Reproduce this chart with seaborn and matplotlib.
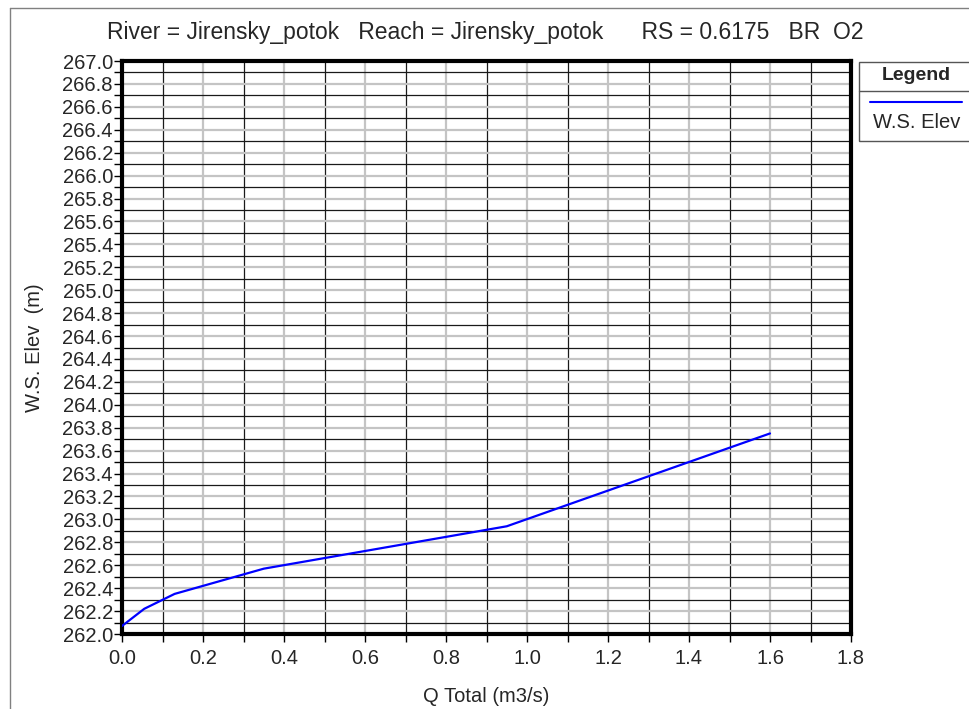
import numpy as np
import pandas as pd
import matplotlib
matplotlib.use("Agg")
import matplotlib.pyplot as plt
from matplotlib.lines import Line2D
from matplotlib.patches import Rectangle
from matplotlib.ticker import MultipleLocator, FormatStrFormatter
import seaborn as sns

# rating curve
q_total = [0.0, 0.055, 0.13, 0.35, 0.95, 1.6]
ws_elev = [262.07, 262.22, 262.35, 262.57, 262.94, 263.75]

title = "River = Jirensky_potok   Reach = Jirensky_potok      RS = 0.6175   BR  O2"
x_label = "Q Total (m3/s)"
y_label = "W.S. Elev  (m)"
legend_title = "Legend"
series_name = "W.S. Elev"

sns.set_style("white")
plt.rcParams['font.family'] = ['Liberation Sans', 'DejaVu Sans']

W, H = 969, 709
fig = plt.figure(figsize=(W / 100, H / 100), dpi=100)
# axes box in pixels: left 122, right 851, top 61, bottom 634
ax = fig.add_axes([122 / W, 1 - 634 / H, (851 - 122) / W, (634 - 61) / H])

df = pd.DataFrame({"Q": q_total, "WSE": ws_elev})
sns.lineplot(data=df, x="Q", y="WSE", ax=ax, color="#0000ff", lw=1.6,
             sort=False, legend=False, zorder=5)

ax.set_xlim(0, 1.8)
ax.set_ylim(262.0, 267.0)
ax.xaxis.set_major_locator(MultipleLocator(0.2))
ax.xaxis.set_minor_locator(MultipleLocator(0.1))
ax.yaxis.set_major_locator(MultipleLocator(0.2))
ax.yaxis.set_minor_locator(MultipleLocator(0.1))
ax.xaxis.set_major_formatter(FormatStrFormatter('%.1f'))
ax.yaxis.set_major_formatter(FormatStrFormatter('%.1f'))

ax.grid(which='major', color='#c4c4c4', lw=1.6, zorder=0)
ax.grid(which='minor', color='#1a1a1a', lw=0.9, zorder=1)
ax.set_axisbelow(True)

ax.tick_params(which='both', direction='out', length=6, width=1,
               color='black', bottom=True, left=True)
ax.tick_params(axis='y', labelsize=14.5, pad=0.5)
ax.tick_params(axis='x', labelsize=14.5, pad=5)
for s in ax.spines.values():
    s.set_color('black')
    s.set_linewidth(3)

ax.set_xlabel(x_label, fontsize=14.5)
ax.set_ylabel(y_label, fontsize=14.5)
ax.xaxis.set_label_coords((486 - 122) / (851 - 122), -(697 - 634) / (634 - 61))
ax.yaxis.set_label_coords(-(122 - 35) / (851 - 122), (634 - 348) / (634 - 61))
ax.xaxis.label.set_va('center')
ax.yaxis.label.set_va('center')

fig.text(485 / W, 1 - 33 / H, title, ha='center', va='center', fontsize=16.5)

# outer frame (left and top edges visible)
fig.add_artist(Line2D([10 / W, 10 / W], [0, 1 - 8 / H], transform=fig.transFigure,
                      color='#808080', lw=1))
fig.add_artist(Line2D([10 / W, 1], [1 - 8 / H, 1 - 8 / H], transform=fig.transFigure,
                      color='#808080', lw=1))

# legend box
lx0, lx1, ly0, ly1 = 859, 975, 62, 141
fig.add_artist(Rectangle((lx0 / W, 1 - ly1 / H), (lx1 - lx0) / W, (ly1 - ly0) / H,
                         transform=fig.transFigure, fill=False, ec='#555555', lw=1))
fig.add_artist(Line2D([lx0 / W, 1], [1 - 90.5 / H, 1 - 90.5 / H],
                      transform=fig.transFigure, color='#555555', lw=1))
fig.text(916 / W, 1 - 76 / H, legend_title, ha='center', va='center',
         fontsize=14, fontweight='bold')
fig.add_artist(Line2D([870 / W, 962 / W], [1 - 102 / H, 1 - 102 / H],
                      transform=fig.transFigure, color='#0000ff', lw=1.5))
fig.text(917 / W, 1 - 122 / H, series_name, ha='center', va='center', fontsize=14.5)

fig.savefig("out.png", dpi=100)
